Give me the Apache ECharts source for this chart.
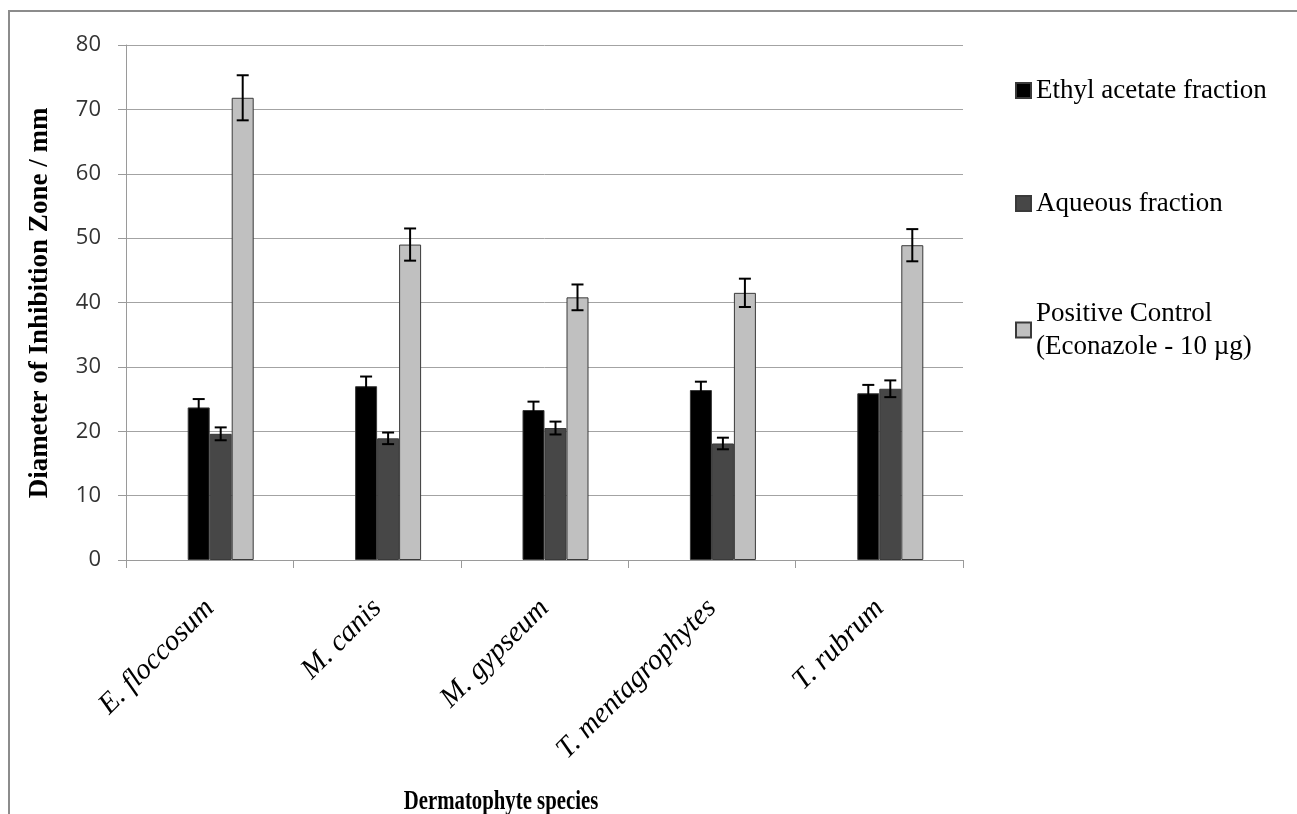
<!DOCTYPE html>
<html>
<head>
<meta charset="utf-8">
<script src="https://cdn.jsdelivr.net/npm/echarts@6/dist/echarts.min.js"></script>
<style>
html,body{margin:0;padding:0;background:#fff;}
#chart{width:1297px;height:814px;}
</style>
</head>
<body>
<div id="chart"></div>
<script>
// ---- data ----
const categories = ['E. floccosum', 'M. canis', 'M. gypseum', 'T. mentagrophytes', 'T. rubrum'];
const seriesNames = ['Ethyl acetate fraction', 'Aqueous fraction', 'Positive Control\n(Econazole - 10 µg)'];
const ethylAcetate = [23.7, 27.0, 23.3, 26.4, 25.9];
const ethylAcetateErr = [1.3, 1.5, 1.3, 1.3, 1.3];
const aqueous = [19.6, 18.9, 20.5, 18.1, 26.6];
const aqueousErr = [1.0, 0.9, 1.0, 0.9, 1.3];
const positiveControl = [71.8, 49.0, 40.8, 41.5, 48.9];
const positiveControlErr = [3.5, 2.5, 2.0, 2.2, 2.5];
const yTicks = [0, 10, 20, 30, 40, 50, 60, 70, 80];

// ---- styling ----
const BAR_W = 22;
const colors = ['#000000', '#474747', '#c0c0c0'];
const serif = '"Liberation Serif", "Times New Roman", serif';

const values = [ethylAcetate, aqueous, positiveControl];
const errs = [ethylAcetateErr, aqueousErr, positiveControlErr];

const errData = [];
values.forEach((arr, s) => arr.forEach((v, i) => errData.push([i, v, errs[s][i], s])));

const chart = echarts.init(document.getElementById('chart'), null, {renderer: 'canvas'});

const option = {
  backgroundColor: '#ffffff',
  animation: false,
  grid: [
    {left: 126, right: 334, top: 45, bottom: 254, containLabel: false},
    {left: 137, right: 323, top: 45, bottom: 254, containLabel: false}
  ],
  legend: {
    orient: 'vertical',
    left: 1015,
    top: 74,
    padding: 0,
    itemWidth: 15,
    itemHeight: 15,
    itemGap: 80,
    icon: 'rect',
    textStyle: {fontFamily: serif, fontSize: 27, color: '#000', lineHeight: 33},
    data: [
      {name: seriesNames[0]},
      {name: seriesNames[1]},
      {name: seriesNames[2], textStyle: {height: 33}}
    ]
  },
  xAxis: [
    {
      type: 'category', gridIndex: 0, data: categories,
      axisLine: {show: true, lineStyle: {color: '#9a9a9a', width: 1}},
      axisTick: {show: true, length: 8, lineStyle: {color: '#9a9a9a'}},
      axisLabel: {
        interval: 0, rotate: 45, margin: 44,
        fontFamily: serif, fontStyle: 'italic', fontSize: 29, color: '#000'
      },
      splitLine: {show: false}
    },
    {
      type: 'category', gridIndex: 1, data: categories, show: false
    }
  ],
  yAxis: [
    {
      type: 'value', gridIndex: 0, min: yTicks[0], max: yTicks[yTicks.length - 1], interval: 10,
      axisLine: {show: true, lineStyle: {color: '#9a9a9a', width: 1}},
      axisTick: {show: true, length: 8, lineStyle: {color: '#9a9a9a'}},
      axisLabel: {margin: 25, fontFamily: '"Open Sans", sans-serif', fontSize: 22, color: '#333'},
      splitLine: {show: true, lineStyle: {color: '#a3a3a3', width: 1}}
    },
    {
      type: 'value', gridIndex: 1, min: yTicks[0], max: yTicks[yTicks.length - 1], interval: 10, show: false,
      splitLine: {show: false}
    }
  ],
  series: [
    ...values.map((arr, s) => ({
      name: seriesNames[s],
      type: 'bar',
      xAxisIndex: 1, yAxisIndex: 1,
      data: arr,
      barWidth: BAR_W,
      barGap: '0%',
      itemStyle: {color: colors[s], borderColor: '#3a3a3a', borderWidth: 1}
    })),
    {
      type: 'custom',
      xAxisIndex: 1, yAxisIndex: 1,
      z: 10,
      silent: true,
      data: errData,
      renderItem: function (params, api) {
        const i = api.value(0), v = api.value(1), e = api.value(2), s = api.value(3);
        const off = (s - 1) * BAR_W;
        const top = api.coord([i, v + e]);
        const bot = api.coord([i, v - e]);
        const x = top[0] + off;
        const hw = 6;
        const st = {stroke: '#000', lineWidth: 2};
        return {
          type: 'group',
          children: [
            {type: 'line', shape: {x1: x, y1: top[1], x2: x, y2: bot[1]}, style: st},
            {type: 'line', shape: {x1: x - hw, y1: top[1], x2: x + hw, y2: top[1]}, style: st},
            {type: 'line', shape: {x1: x - hw, y1: bot[1], x2: x + hw, y2: bot[1]}, style: st}
          ]
        };
      }
    }
  ],
  graphic: [
    {
      type: 'rect', z: -1, silent: true,
      shape: {x: 9, y: 11, width: 1300, height: 900},
      style: {fill: 'none', stroke: '#8c8c8c', lineWidth: 2}
    },
    {
      type: 'text', x: 40, y: 303, rotation: Math.PI / 2,
      style: {text: 'Diameter of Inhibition Zone / mm', fontFamily: serif, fontWeight: 'bold', fontSize: 27,
        fill: '#000', textAlign: 'center', textVerticalAlign: 'middle'}
    },
    {
      type: 'text', x: 501, y: 802, scaleX: 0.77,
      style: {text: 'Dermatophyte species', fontFamily: serif, fontWeight: 'bold', fontSize: 27,
        fill: '#000', textAlign: 'center', textVerticalAlign: 'middle'}
    }
  ]
};
chart.setOption(option);
</script>
</body>
</html>
